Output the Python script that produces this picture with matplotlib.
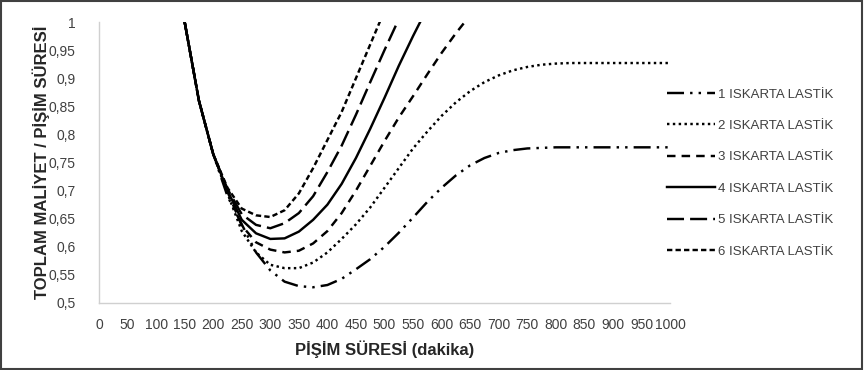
import numpy as np
import matplotlib
matplotlib.use("Agg")
import matplotlib.pyplot as plt
from matplotlib import font_manager

available = {f.name for f in font_manager.fontManager.ttflist}
base_font = 'Liberation Sans Narrow' if 'Liberation Sans Narrow' in available else 'Liberation Sans'
plt.rcParams['font.family'] = [base_font, 'DejaVu Sans']

# pişim süresi (dakika)
x_vals = list(range(150, 1001, 25))

# toplam maliyet / pişim süresi, her ıskarta lastik sayısı için
iskarta_1 = [1.0, 0.86, 0.765, 0.69, 0.64, 0.59, 0.558, 0.538, 0.53, 0.528, 0.532, 0.543,
             0.56, 0.578, 0.6, 0.625, 0.652, 0.68, 0.705, 0.727, 0.745, 0.758, 0.767, 0.772,
             0.775, 0.776, 0.777, 0.777, 0.777, 0.777, 0.777, 0.777, 0.777, 0.777, 0.777]
iskarta_2 = [1.0, 0.86, 0.765, 0.695, 0.628, 0.59, 0.568, 0.562, 0.562, 0.572, 0.59, 0.614,
             0.64, 0.67, 0.705, 0.74, 0.775, 0.805, 0.833, 0.857, 0.877, 0.893, 0.905, 0.914,
             0.92, 0.924, 0.926, 0.927, 0.927, 0.927, 0.927, 0.927, 0.927, 0.927, 0.927]
iskarta_3 = [1.0, 0.86, 0.765, 0.698, 0.638, 0.608, 0.595, 0.59, 0.593, 0.606, 0.628, 0.66,
             0.70, 0.744, 0.788, 0.83, 0.868, 0.907, 0.945, 0.98, 1.012]
iskarta_4 = [1.0, 0.86, 0.765, 0.70, 0.648, 0.624, 0.614, 0.615, 0.627, 0.648, 0.675, 0.712,
             0.758, 0.81, 0.865, 0.922, 0.975, 1.025]
iskarta_5 = [1.0, 0.86, 0.765, 0.703, 0.658, 0.639, 0.633, 0.642, 0.66, 0.69, 0.733, 0.78,
             0.835, 0.893, 0.95, 1.005]
iskarta_6 = [1.0, 0.86, 0.765, 0.705, 0.668, 0.656, 0.653, 0.665, 0.695, 0.74, 0.79, 0.84,
             0.90, 0.96, 1.02]

labels = ['1 ISKARTA LASTİK', '2 ISKARTA LASTİK', '3 ISKARTA LASTİK',
          '4 ISKARTA LASTİK', '5 ISKARTA LASTİK', '6 ISKARTA LASTİK']
series = [iskarta_1, iskarta_2, iskarta_3, iskarta_4, iskarta_5, iskarta_6]
styles = [(0, (7, 2.5, 1, 2.5, 1, 2.5)), (0, (1, 1.4)), (0, (3.5, 2.5)), '-', (0, (7, 2.5)),
          (0, (2.2, 1.3))]

y_ticks = [0.5, 0.55, 0.6, 0.65, 0.7, 0.75, 0.8, 0.85, 0.9, 0.95, 1.0]
y_labels = ['0,5', '0,55', '0,6', '0,65', '0,7', '0,75', '0,8', '0,85', '0,9', '0,95', '1']
x_ticks = list(range(0, 1001, 50))

fig = plt.figure(figsize=(8.64, 3.70), dpi=100)
ax = fig.add_axes([99/864, 1 - 303/370, (670 - 99)/864, (303 - 22)/370])

for vals, lab, ls in zip(series, labels, styles):
    ax.plot(x_vals[:len(vals)], vals, color='black', lw=1.75, linestyle=ls, label=lab)

ax.set_xlim(0, 1000)
ax.set_ylim(0.5, 1.0)
ax.set_xticks(x_ticks)
ax.set_xticklabels([str(v) for v in x_ticks], fontsize=10, color='#404040')
ax.set_yticks(y_ticks)
ax.set_yticklabels(y_labels, fontsize=10, color='#404040')
ax.tick_params(axis='both', length=0)
ax.tick_params(axis='y', pad=17)
ax.tick_params(axis='x', pad=11)

for side in ['top', 'right']:
    ax.spines[side].set_visible(False)
for side in ['left', 'bottom']:
    ax.spines[side].set_color('#d0d0d0')
    ax.spines[side].set_linewidth(1)

ax.set_ylabel('TOPLAM MALİYET / PİŞİM SÜRESİ', fontsize=12, fontweight='bold', color='#262626')
ax.yaxis.set_label_coords(-0.086, 0.5)
ax.set_xlabel('PİŞİM SÜRESİ (dakika)', fontsize=12, fontweight='bold', color='#262626')
ax.xaxis.set_label_coords(0.5, -0.135)

fig.legend(loc='center left', bbox_to_anchor=(667/864, 1 - 173/370), frameon=False,
           fontsize=9.5, handlelength=3.6, handletextpad=0.25, labelspacing=1.45,
           borderpad=0, borderaxespad=0, labelcolor='#404040')

fig.patches.append(plt.Rectangle((0.001, 0.002), 0.997, 0.995, transform=fig.transFigure,
                                 fill=False, edgecolor='#404040', linewidth=1.5))

fig.savefig('out.png', dpi=100)
